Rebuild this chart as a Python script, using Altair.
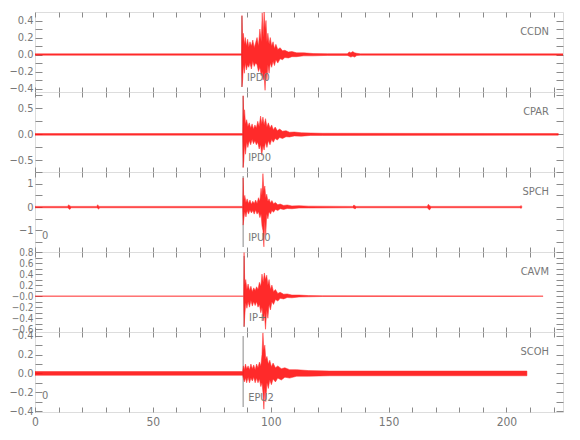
import altair as alt
import pandas as pd

# ---------------- data ----------------
STATIONS = ["CCDN", "CPAR", "SPCH", "CAVM", "SCOH"]
PHASES = ["IPD0", "IPD0", "IPU0", "IP+", "EPU2"]
PICK_TIMES = [87.8, 88.3, 88.3, 88.7, 88.3]
ZERO_MARK = ["", "", "0", "", "0"]
Y_DOMAINS = [[-0.44, 0.50], [-0.72, 0.81], [-1.92, 1.50], [-0.65, 0.80], [-0.41, 0.44]]
Y_LABEL_SIZES = [11, 11, 11, 10, 11]

Y_TICKS = [
    [-0.4, -0.3, -0.2, -0.1, 0.0, 0.1, 0.2, 0.3, 0.4],
    [-0.5, -0.25, 0.0, 0.25, 0.5, 0.75],
    [-1.5, -1.0, -0.5, 0.0, 0.5, 1.0, 1.5],
    [-0.6, -0.5, -0.4, -0.3, -0.2, -0.1, 0.0, 0.1, 0.2, 0.3, 0.4, 0.5, 0.6, 0.7, 0.8],
    [-0.4, -0.3, -0.2, -0.1, 0.0, 0.1, 0.2, 0.3, 0.4],
]
Y_LABEL_VALUES = [
    [-0.4, -0.2, 0.0, 0.2, 0.4],
    [-0.5, 0.0, 0.5],
    [-1.0, 0.0, 1.0],
    [-0.6, -0.4, -0.2, 0.0, 0.2, 0.4, 0.6, 0.8],
    [-0.4, -0.2, 0.0, 0.2, 0.4],
]
Y_LABEL_TEXTS = [
    ["\u22120.4", "\u22120.2", "0.0", "0.2", "0.4"],
    ["\u22120.5", "0.0", "0.5"],
    ["\u22121", "0", "1"],
    ["\u22120.6", "\u22120.4", "\u22120.2", "\u22120.0", "0.2", "0.4", "0.6", "0.8"],
    ["\u22120.4", "\u22120.2", "0.0", "0.2", "0.4"],
]

X_TICKS = [0, 10, 20, 30, 40, 50, 60, 70, 80, 90, 100, 110, 120, 130, 140, 150,
           160, 170, 180, 190, 200, 210, 220]
X_LABELS = [0, 50, 100, 150, 200]

# envelopes of each trace: time (s), upper and lower amplitude
CCDN_T = [0, 87.6, 87.8, 88.1, 88.4, 88.8, 89.2, 89.7, 90.2, 90.7, 91.2, 91.8, 92.4, 93,
          93.6, 94.2, 94.8, 95.4, 96, 96.4, 96.8, 97.2, 97.6, 98, 98.4, 98.8, 99.3, 99.8,
          100.4, 101, 101.6, 102.2, 103, 104, 105, 106, 107.5, 109, 111, 114, 118, 124,
          132.5, 133.3, 134, 134.8, 135.6, 136.5, 138, 224]
CCDN_UP = [.008, .008, .46, .15, .25, .12, .2, .1, .18, .09, .15, .1, .17, .08,
           .14, .2, .1, .3, .15, .49, .2, .5, .3, .4, .15, .25, .12, .2,
           .1, .15, .07, .12, .06, .08, .045, .05, .03, .035, .02, .02, .012, .01,
           .01, .03, .02, .035, .02, .015, .008, .008]
CCDN_LO = [-.008, -.008, -.38, -.3, -.12, -.22, -.1, -.18, -.12, -.15, -.1, -.17, -.08,
           -.14, -.1, -.12, -.2, -.15, -.25, -.2, -.3, -.25, -.42, -.2, -.3, -.12, -.22,
           -.1, -.15, -.08, -.13, -.06, -.1, -.05, -.06, -.035, -.04, -.025, -.025,
           -.015, -.015, -.01, -.01, -.02, -.03, -.02, -.03, -.012, -.008, -.008]

CPAR_T = [0, 88.1, 88.3, 88.6, 88.9, 89.3, 89.8, 90.3, 90.9, 91.5, 92.1, 92.7, 93.3, 93.9,
          94.5, 95.1, 95.7, 96.2, 96.7, 97.2, 97.8, 98.4, 99, 99.7, 100.4, 101.1, 101.9,
          102.8, 103.8, 105, 106.5, 108, 110, 113, 117, 122, 222]
CPAR_UP = [.015, .015, .74, .3, .47, .2, .28, .15, .22, .12, .2, .1, .18, .12,
           .25, .15, .35, .2, .33, .18, .3, .14, .22, .12, .18, .09, .14,
           .07, .1, .06, .07, .04, .045, .03, .025, .02, .015]
CPAR_LO = [-.015, -.015, -.64, -.5, -.2, -.38, -.15, -.25, -.12, -.2, -.1, -.18, -.12, -.2,
           -.15, -.28, -.2, -.4, -.22, -.3, -.15, -.25, -.12, -.2, -.1, -.15, -.08,
           -.11, -.06, -.08, -.045, -.05, -.03, -.035, -.02, -.02, -.015]

SPCH_T = [0, 13.8, 14.3, 14.8, 15.3, 26.2, 26.6, 27, 27.4, 88.1, 88.3, 88.6, 89, 89.5, 90,
          90.6, 91.2, 91.8, 92.4, 93, 93.6, 94.2, 94.8, 95.4, 95.9, 96.3, 96.7, 97.1,
          97.5, 97.9, 98.3, 98.8, 99.3, 99.9, 100.5, 101.2, 102, 103, 104, 105.5, 107,
          109, 112, 116, 134.8, 135.3, 135.8, 136.3, 166.4, 166.9, 167.4, 168, 205.8,
          206.2, 206.5]
SPCH_UP = [.03, .03, .1, .05, .03, .03, .1, .04, .03, .03, 1.25, .3, .5, .2, .35,
           .15, .3, .12, .25, .15, .3, .15, .4, .25, .8, .5, 1.43, .7,
           .9, .4, .55, .25, .35, .18, .28, .14, .2, .1, .13, .07, .09,
           .05, .06, .04, .03, .09, .05, .03, .03, .12, .06, .03, .03,
           .07, .03]
SPCH_LO = [-.03, -.03, -.06, -.1, -.03, -.03, -.05, -.09, -.03, -.03, -.77, -.5, -.2,
           -.42, -.15, -.3, -.12, -.25, -.15, -.3, -.12, -.3, -.2, -.45, -.3, -.8, -1.0,
           -1.7, -.6, -1.2, -.3, -.5, -.2, -.3, -.15, -.22, -.1, -.15, -.07, -.1, -.06,
           -.07, -.04, -.04, -.03, -.05, -.08, -.03, -.03, -.08, -.12, -.03, -.03,
           -.06, -.03]

CAVM_T = [0, 88.5, 88.7, 89, 89.4, 89.9, 90.4, 91, 91.6, 92.2, 92.8, 93.4, 94, 94.6, 95.2,
          95.8, 96.3, 96.8, 97.3, 97.8, 98.3, 98.8, 99.3, 99.9, 100.5, 101.2, 102, 103,
          104, 105.5, 107, 109, 112, 116, 122, 215.5]
CAVM_UP = [.004, .004, .79, .2, .3, .12, .22, .1, .18, .08, .15, .1, .17, .12, .25,
           .18, .4, .25, .42, .3, .38, .2, .3, .12, .2, .08, .12, .05,
           .07, .035, .04, .02, .02, .01, .006, .004]
CAVM_LO = [-.004, -.004, -.55, -.35, -.12, -.22, -.1, -.2, -.08, -.18, -.1, -.17, -.1,
           -.2, -.15, -.3, -.2, -.45, -.3, -.6, -.25, -.4, -.15, -.25, -.1, -.15, -.06,
           -.09, -.04, -.05, -.025, -.03, -.015, -.012, -.006, -.004]

SCOH_T = [0, 88.1, 88.4, 88.8, 89.3, 89.8, 90.4, 91, 91.6, 92.2, 92.8, 93.4, 94, 94.6,
          95.2, 95.8, 96.3, 96.7, 97.1, 97.5, 97.9, 98.4, 99, 99.6, 100.3, 101, 102, 103,
          104.5, 106, 108, 111, 116, 125, 208.7]
SCOH_UP = [.02, .02, .08, .04, .1, .05, .08, .04, .1, .05, .09, .04, .1, .06,
           .12, .08, .2, .43, .25, .3, .15, .18, .1, .14, .07, .11, .06, .08,
           .05, .06, .04, .04, .03, .025, .025]
SCOH_LO = [-.02, -.02, -.05, -.09, -.05, -.1, -.04, -.1, -.05, -.08, -.04, -.1, -.05,
           -.1, -.06, -.14, -.1, -.2, -.38, -.15, -.3, -.1, -.16, -.07, -.12, -.06, -.09,
           -.05, -.07, -.04, -.05, -.03, -.03, -.025, -.025]

TRACES = [
    (CCDN_T, CCDN_UP, CCDN_LO),
    (CPAR_T, CPAR_UP, CPAR_LO),
    (SPCH_T, SPCH_UP, SPCH_LO),
    (CAVM_T, CAVM_UP, CAVM_LO),
    (SCOH_T, SCOH_UP, SCOH_LO),
]

# ---------------- styling ----------------
FONT = "DejaVu Sans Condensed, Liberation Sans Narrow, Roboto Condensed, sans-serif"
GRAY = "#8a8a8a"
TXT = "#777777"
RED = "#ff1414"
W = 528
H = 80
X_DOMAIN = [0, 224]
FS = 11


def label_expr(values, texts):
    expr = "''"
    for v, t in reversed(list(zip(values, texts))):
        expr = f"datum.value == {v} ? '{t}' : ({expr})"
    return expr


def panel(i, last):
    t, up, lo = TRACES[i]
    df = pd.DataFrame({"t": t, "up": up, "lo": lo})
    xs = alt.Scale(domain=X_DOMAIN, nice=False, zero=False)
    ys = alt.Scale(domain=Y_DOMAINS[i], nice=False, zero=False)
    yt = [v + 0.0 for v in Y_TICKS[i]]

    x_bottom = alt.Axis(orient="bottom", values=X_TICKS, tickSize=5, offset=-5,
                        domain=False, grid=False, title=None, tickColor=GRAY,
                        labels=last, labelExpr=label_expr(X_LABELS, [str(v) for v in X_LABELS]),
                        labelPadding=4, labelFont=FONT, labelFontSize=FS + 1,
                        labelColor=TXT, labelOverlap=False, labelFlush=False)
    x_top = alt.Axis(orient="top", values=X_TICKS, tickSize=5, offset=-5, domain=False,
                     grid=False, title=None, labels=False, tickColor=GRAY)
    y_left = alt.Axis(orient="left", values=yt, tickSize=7, offset=-7, domain=False,
                      grid=False, title=None, tickColor=GRAY,
                      labelExpr=label_expr(Y_LABEL_VALUES[i], Y_LABEL_TEXTS[i]),
                      labelPadding=2, labelFont=FONT, labelFontSize=Y_LABEL_SIZES[i],
                      labelColor=TXT, labelOverlap=False, labelFlush=False,
                      labelBound=False)
    y_right = alt.Axis(orient="right", values=yt, tickSize=7, offset=-7, domain=False,
                       grid=False, title=None, labels=False, tickColor=GRAY)

    pick = pd.DataFrame({"t": [PICK_TIMES[i]], "phase": [PHASES[i]],
                         "station": [STATIONS[i]], "zero": [ZERO_MARK[i]]})

    rule = alt.Chart(pick).mark_rule(color=GRAY, strokeWidth=1).encode(
        x=alt.X("t:Q", scale=xs, axis=x_top),
        y=alt.value(4), y2=alt.value(75))

    area = alt.Chart(df).mark_area(color=RED, opacity=0.9, stroke=RED,
                                   strokeWidth=0.5, clip=True).encode(
        x=alt.X("t:Q", scale=xs, axis=x_bottom),
        y=alt.Y("up:Q", scale=ys, axis=y_left),
        y2="lo:Q")

    # invisible layer carrying the right-hand axis
    right = alt.Chart(df).mark_point(opacity=0).encode(
        x=alt.X("t:Q", scale=xs, axis=None),
        y=alt.Y("up:Q", scale=ys, axis=y_right))

    station = alt.Chart(pick).mark_text(align="right", baseline="middle", font=FONT,
                                        fontSize=FS, color=TXT).encode(
        text="station:N", x=alt.value(514), y=alt.value(20))
    phase = alt.Chart(pick).mark_text(align="left", baseline="middle", font=FONT,
                                      fontSize=FS, color=TXT, dx=5).encode(
        text="phase:N", x=alt.X("t:Q", scale=xs, axis=None), y=alt.value(66))
    zero = alt.Chart(pick).mark_text(align="left", baseline="middle", font=FONT,
                                     fontSize=FS, color=TXT).encode(
        text="zero:N", x=alt.value(7), y=alt.value(64))

    return alt.layer(rule, area, right, station, phase, zero).resolve_axis(
        x="independent", y="independent").properties(width=W, height=H)


panels = [panel(i, i == len(STATIONS) - 1) for i in range(len(STATIONS))]

chart = alt.vconcat(*panels, spacing=0, bounds="flush").properties(
    padding={"left": 0, "top": 0, "right": 0, "bottom": 0}
).configure_view(stroke=GRAY, strokeWidth=1).configure(background="white")

chart.save("out.html", embed_options={"renderer": "svg", "actions": False})
